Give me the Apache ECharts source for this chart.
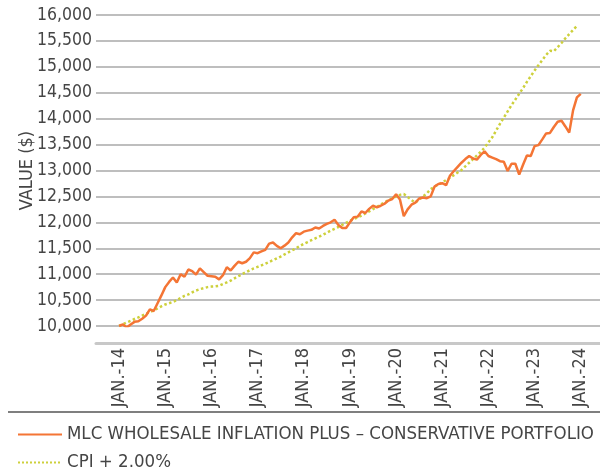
<!DOCTYPE html>
<html>
<head>
<meta charset="utf-8">
<script src="https://cdn.jsdelivr.net/npm/echarts@6/dist/echarts.min.js"></script>
<style>
  html, body { margin: 0; padding: 0; background: #fff; }
  #chart { width: 600px; height: 472px; }
</style>
</head>
<body>
<div id="chart"></div>
<script>
  // monthly values, JAN.-14 .. JAN.-24
  const mlcValues = [
    10000, 10030, 9970, 10030, 10080, 10090, 10140, 10200, 10320, 10290, 10440, 10590,
    10750, 10850, 10935, 10840, 11000, 10950, 11090, 11060, 10990, 11110, 11040, 10970,
    10960, 10950, 10900, 10980, 11135, 11070, 11160, 11240, 11210, 11240, 11310, 11420,
    11405, 11440, 11470, 11590, 11610, 11545, 11500, 11550, 11610, 11710, 11790, 11770,
    11820, 11840, 11855, 11900, 11880, 11930, 11970, 12000, 12050, 11950, 11890, 11890,
    12000, 12100, 12110, 12210, 12180, 12260, 12320, 12290, 12320, 12360, 12420, 12450,
    12540, 12440, 12120, 12250, 12340, 12380, 12460, 12480, 12465, 12500, 12690, 12740,
    12755, 12715, 12900, 12990, 13070, 13150, 13220, 13280, 13230, 13210, 13300, 13370,
    13280, 13250, 13220, 13180, 13170, 12990, 13130, 13130, 12920, 13110, 13290, 13280,
    13470, 13490, 13600, 13715, 13725, 13840, 13940, 13960, 13850, 13730, 14160, 14410,
    14480
  ]
  const cpiValues = [
    10000, 10035, 10070, 10100, 10135, 10165, 10200, 10235, 10270, 10300, 10340, 10380,
    10415, 10440, 10465, 10500, 10540, 10580, 10610, 10650, 10685, 10710, 10730, 10750,
    10760, 10765, 10775, 10810, 10840, 10875, 10920, 10960, 11000, 11040, 11075, 11110,
    11140, 11170, 11200, 11235, 11270, 11305, 11340, 11380, 11420, 11460, 11500, 11545,
    11585, 11620, 11655, 11690, 11725, 11760, 11800, 11840, 11875, 11910, 11950, 11990,
    12030, 12060, 12095, 12130, 12170, 12210, 12255, 12300, 12340, 12385, 12425, 12465,
    12500, 12530, 12545, 12490, 12430, 12380, 12440, 12500, 12560, 12640, 12690, 12730,
    12770, 12815, 12860, 12910, 12960, 13010, 13080, 13150, 13220, 13290, 13360, 13440,
    13540, 13640, 13770, 13900, 14020, 14140, 14260, 14370, 14480, 14590, 14710, 14820,
    14930, 15030, 15130, 15230, 15310, 15300, 15380, 15460, 15550, 15630, 15710, 15790
  ]
  const seriesNames = ['MLC WHOLESALE INFLATION PLUS – CONSERVATIVE PORTFOLIO', 'CPI + 2.00%']
  const yTicks = { min: 10000, max: 16000, step: 500 }
  const monthNames = ['JAN.', 'FEB.', 'MAR.', 'APR.', 'MAY', 'JUN.', 'JUL.', 'AUG.', 'SEP.', 'OCT.', 'NOV.', 'DEC.']

  // axis runs JUL.-13 .. JUN.-24, data starts at JAN.-14
  const padBefore = 6
  const totalMonths = 132
  const categories = []
  for (let k = 0; k < totalMonths; k++) {
    const m = (6 + k) % 12
    const yr = 13 + Math.floor((6 + k) / 12)
    categories.push(monthNames[m] + '-' + String(yr).padStart(2, '0'))
  }
  const pad = (arr) => {
    const out = new Array(padBefore).fill(null).concat(arr)
    while (out.length < totalMonths) out.push(null)
    return out
  }

  // 'condensed' goes into the canvas font shorthand as font-stretch
  const txt = (size) => ({
    fontFamily: '"DejaVu Sans"',
    fontStyle: 'condensed',
    fontSize: size,
    color: '#454545'
  })

  const legendBase = {
    orient: 'horizontal',
    left: 12,
    itemWidth: 44,
    itemHeight: 12,
    itemStyle: { opacity: 0 },
    textStyle: txt(18.5)
  }

  const chart = echarts.init(document.getElementById('chart'))
  chart.setOption({
    animation: false,
    grid: {
      left: 96,
      right: 0,
      top: 15,
      bottom: 146
    },
    xAxis: {
      type: 'category',
      data: categories,
      boundaryGap: false,
      offset: 17,
      axisLine: { lineStyle: { color: '#c8c8c8', width: 3 } },
      axisTick: { show: false },
      splitLine: { show: false },
      axisLabel: Object.assign({
        interval: (idx, val) => val.indexOf('JAN.') === 0,
        rotate: 90,
        margin: 5
      }, txt(18))
    },
    yAxis: {
      type: 'value',
      min: yTicks.min,
      max: yTicks.max,
      interval: yTicks.step,
      name: 'VALUE ($)',
      nameLocation: 'middle',
      nameGap: 60,
      nameMoveOverlap: false,
      nameTextStyle: txt(18),
      axisLine: { show: false },
      axisTick: { show: false },
      axisLabel: Object.assign({
        margin: 4,
        formatter: (v) => v.toLocaleString('en-US')
      }, txt(17.5)),
      splitLine: { lineStyle: { color: '#a8a8a8', width: 1.5 } }
    },
    legend: [
      Object.assign({ top: 420, data: [seriesNames[0]] }, legendBase),
      Object.assign({ top: 448, data: [seriesNames[1]] }, legendBase)
    ],
    graphic: [{
      type: 'line',
      shape: { x1: 8, y1: 412, x2: 600, y2: 412 },
      style: { stroke: '#555', lineWidth: 1.5 }
    }],
    series: [{
      name: seriesNames[0],
      type: 'line',
      data: pad(mlcValues),
      symbol: 'none',
      z: 3,
      lineStyle: { color: '#f47535', width: 2.5 },
      itemStyle: { color: '#f47535' }
    }, {
      name: seriesNames[1],
      type: 'line',
      data: pad(cpiValues),
      symbol: 'none',
      z: 2,
      lineStyle: { color: '#cdd03c', width: 2.5, type: 'dotted' },
      itemStyle: { color: '#cdd03c' }
    }]
  })
</script>
</body>
</html>
